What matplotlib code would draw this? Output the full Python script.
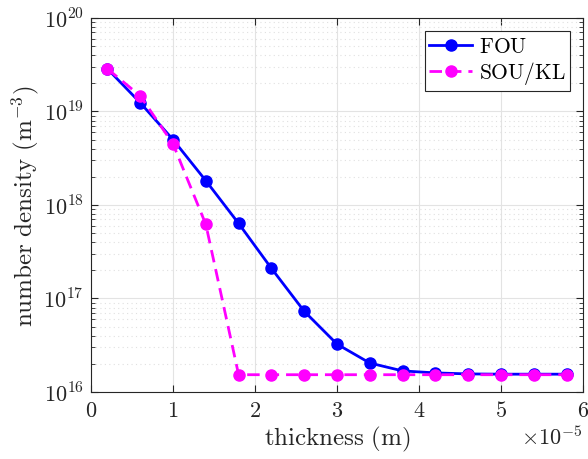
import numpy as np
import matplotlib.pyplot as plt
from matplotlib.ticker import FixedLocator, FixedFormatter, LogLocator, NullFormatter

plt.rcParams['mathtext.fontset'] = 'cm'
plt.rcParams['font.family'] = 'serif'

# thickness (m)
thickness = np.array([0.2, 0.6, 1.0, 1.4, 1.8, 2.2, 2.6, 3.0, 3.4, 3.8, 4.2, 4.6, 5.0, 5.4, 5.8]) * 1e-5
# number density (m^-3)
fou = np.array([2.86e19, 1.24e19, 5.0e18, 1.82e18, 6.35e17, 2.1e17, 7.3e16, 3.25e16,
                2.04e16, 1.68e16, 1.6e16, 1.56e16, 1.55e16, 1.55e16, 1.55e16])
sou_kl = np.array([2.86e19, 1.47e19, 4.5e18, 6.2e17, 1.53e16, 1.53e16, 1.53e16, 1.53e16,
                   1.53e16, 1.53e16, 1.53e16, 1.53e16, 1.53e16, 1.53e16, 1.53e16])

xticks = [0, 1e-5, 2e-5, 3e-5, 4e-5, 5e-5, 6e-5]
xtick_labels = ['$0$', '$1$', '$2$', '$3$', '$4$', '$5$', '$6$']
yticks = [1e16, 1e17, 1e18, 1e19, 1e20]
ytick_labels = ['$10^{16}$', '$10^{17}$', '$10^{18}$', '$10^{19}$', '$10^{20}$']

fig = plt.figure(figsize=(5.88, 4.6), dpi=100)
ax = fig.add_axes([0.1548, 0.1457, 0.8367, 0.8130])

ax.plot(thickness, fou, '-o', color='blue', lw=2, markersize=8, label=r'$\mathrm{FOU}$', zorder=3)
ax.plot(thickness, sou_kl, '--o', color='magenta', lw=2, markersize=8, dashes=(4.5, 2.5),
        label=r'$\mathrm{SOU/KL}$', zorder=4)

ax.set_yscale('log')
ax.set_xlim(0, 6e-5)
ax.set_ylim(1e16, 1e20)

ax.xaxis.set_major_locator(FixedLocator(xticks))
ax.xaxis.set_major_formatter(FixedFormatter(xtick_labels))
ax.yaxis.set_major_locator(FixedLocator(yticks))
ax.yaxis.set_major_formatter(FixedFormatter(ytick_labels))
ax.yaxis.set_minor_locator(LogLocator(base=10, subs=np.arange(2, 10)))
ax.yaxis.set_minor_formatter(NullFormatter())

ax.tick_params(which='both', direction='in', top=True, right=True, labelsize=16, colors='#262626')
ax.tick_params(which='major', length=5, width=0.8, pad=5)
ax.tick_params(which='minor', length=3, width=0.6)
ax.grid(True, which='major', color='#e3e3e3', lw=0.8)
ax.grid(True, which='minor', axis='y', color='#e0e0e0', lw=0.8, linestyle=(0, (1, 3)))
ax.set_axisbelow(True)
for sp in ax.spines.values():
    sp.set_color('#262626')
    sp.set_linewidth(0.8)

ax.set_xlabel(r'$\mathrm{thickness\ (m)}$', fontsize=18, color='#262626', labelpad=2)
ax.set_ylabel(r'$\mathrm{number\ density\ (m^{-3})}$', fontsize=18, color='#262626', labelpad=2)
ax.text(1.0, -0.09, r'$\times10^{-5}$', transform=ax.transAxes, ha='right', va='top',
        fontsize=16, color='#262626')

leg = ax.legend(loc='upper right', fontsize=15.5, fancybox=False, framealpha=1,
                edgecolor='#262626', borderpad=0.2, handlelength=2.0, labelspacing=0.1,
                handletextpad=0.3, borderaxespad=0.6)
leg.get_frame().set_linewidth(0.8)

fig.savefig('out.png', dpi=100)
